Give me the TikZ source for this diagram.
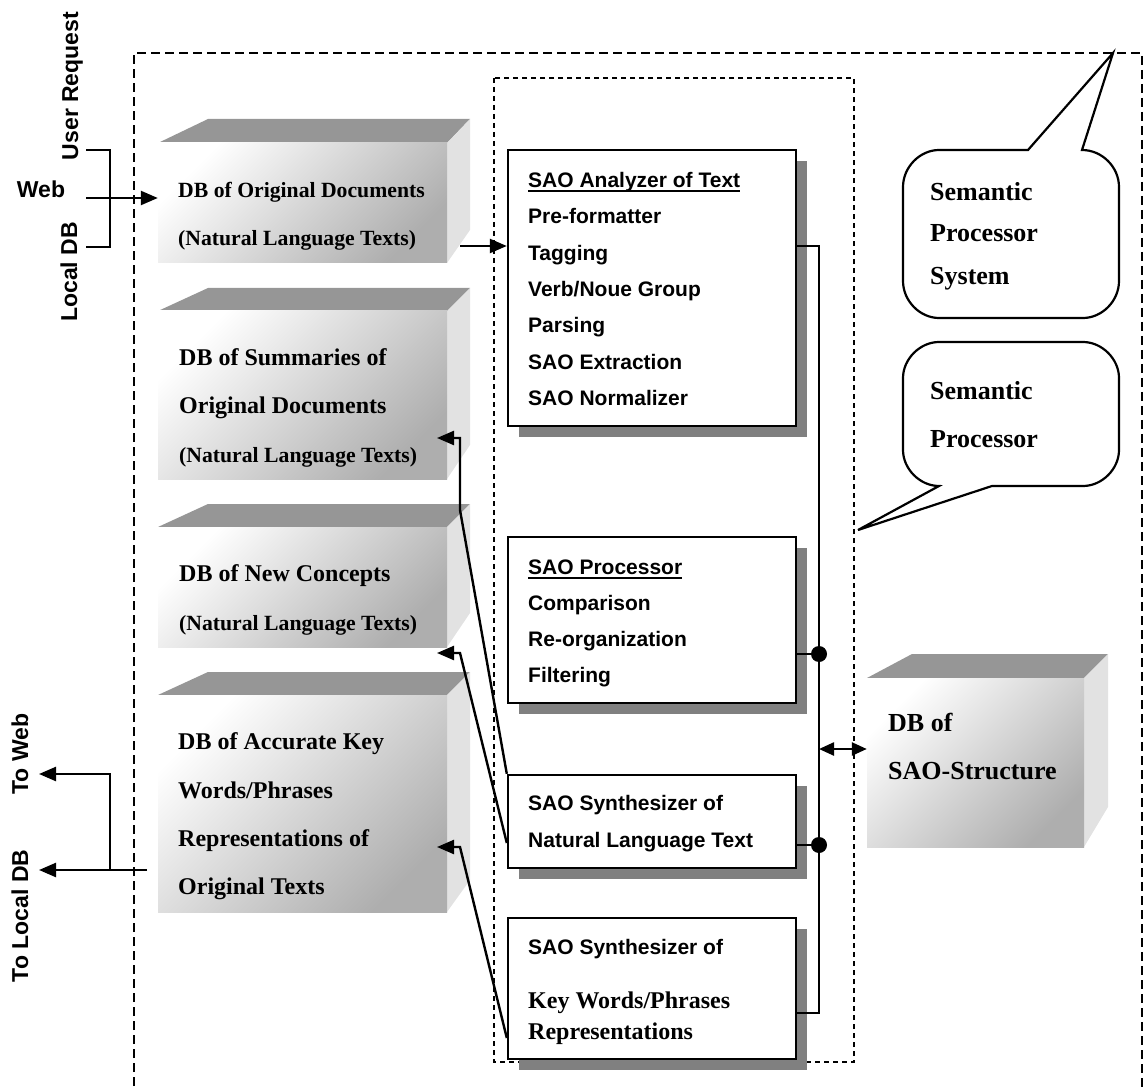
\documentclass[tikz,border=0pt]{standalone}
\usepackage{fontspec}
\setmainfont{Liberation Serif}
\setsansfont{Liberation Sans}
\usetikzlibrary{arrows.meta,shadows}

\definecolor{dbtop}{HTML}{969696}
\definecolor{dbside}{HTML}{E2E2E2}
\definecolor{dbdark}{HTML}{AEAEAE}
\definecolor{boxshadow}{HTML}{808080}

% underlined heading with a heavy rule
\newcommand\ulword[1]{\setbox0\hbox{#1}\rlap{\rule[-4.2pt]{\wd0}{2pt}}\box0}

% database cube: #1 name, #2 left, #3 front top, #4 right, #5 front bottom,
% #6 back-left offset, #7 back-right offset, #8 depth rise, #9 back bottom of side face
\newcommand\dbcube[9]{%
  \fill[dbtop] (#2,#3) -- ({#2+#6},{#3-#8}) -- ({#4+#7},{#3-#8}) -- (#4,#3) -- cycle;
  \fill[dbside] (#4,#3) -- ({#4+#7},{#3-#8}) -- ({#4+#7},#9) -- (#4,#5) -- cycle;
  \node[dbfrontface, minimum width={#4-#2}, minimum height={#5-#3}] (#1) at ({(#2+#4)/2},{(#3+#5)/2}) {};
}

\begin{document}
\begin{tikzpicture}[x=1pt,y=-1pt,
  sans/.style={font=\sffamily\bfseries\fontsize{21}{25}\selectfont, anchor=base west, inner sep=0},
  serifbig/.style={font=\rmfamily\bfseries\fontsize{24}{28}\selectfont, anchor=base west, inner sep=0},
  serifsmall/.style={font=\rmfamily\bfseries\fontsize{21.7}{26}\selectfont, anchor=base west, inner sep=0},
  serifhuge/.style={font=\rmfamily\bfseries\fontsize{26}{30}\selectfont, anchor=base west, inner sep=0},
  extlabel/.style={font=\sffamily\bfseries\fontsize{23}{27}\selectfont, inner sep=0, anchor=base},
  dbfrontface/.style={inner sep=0, top color=white, bottom color=dbdark, shading angle=45},
  saobox/.style={draw=black, line width=2.4pt, fill=white, inner sep=0, minimum width=288,
    drop shadow={shadow xshift=11pt, shadow yshift=-11pt, fill=boxshadow, opacity=1}},
  wire/.style={line width=2.4pt},
  arr/.style={line width=2.4pt, -{Triangle[length=17pt,width=14pt]}},
  busline/.style={line width=2.8pt},
  dot/.style={circle, fill=black, inner sep=0, minimum size=16},
  dblarr/.style={line width=2.4pt, {Triangle[length=15pt,width=13pt]}-{Triangle[length=15pt,width=13pt]}},
  outerframe/.style={line width=2.2pt, dash pattern=on 9pt off 5pt},
  innerframe/.style={line width=1.6pt, dash pattern=on 5pt off 4pt},
  callout/.style={line width=2.2pt, fill=white, line join=miter}
]
\useasboundingbox (0,0) rectangle (1146,1091);

% system and processor frames
\draw[outerframe] (134,1100) -- (134,53) -- (1142,53) -- (1142,1100);
\draw[innerframe] (494,78) rectangle (854,1062);

% databases
\dbcube{dbOrig}{158}{143}{447}{263}{50}{23}{24}{230}
\dbcube{dbSumm}{158}{311}{447}{479}{50}{23}{23}{445}
\dbcube{dbConc}{158}{527}{447}{647}{50}{23}{23}{613}
\dbcube{dbKey}{158}{695}{447}{912}{50}{23}{23}{880}
\dbcube{dbSAO}{867}{678}{1084}{847}{45}{24}{24}{807}

\node[serifsmall] (tOrig1) at (178,198) {DB of Original Documents};
\node[serifsmall] (tOrig2) at (178,246) {(Natural Language Texts)};
\node[serifbig] (tSumm1) at (179,365) {DB of Summaries of};
\node[serifbig] (tSumm2) at (179,413) {Original Documents};
\node[serifsmall] (tSumm3) at (179,462) {(Natural Language Texts)};
\node[serifbig] (tConc1) at (179,581) {DB of New Concepts};
\node[serifsmall] (tConc2) at (179,630) {(Natural Language Texts)};
\node[serifbig] (tKey1) at (178,749) {DB of Accurate Key};
\node[serifbig] (tKey2) at (178,798) {Words/Phrases};
\node[serifbig] (tKey3) at (178,846) {Representations of};
\node[serifbig] (tKey4) at (178,894) {Original Texts};
\node[serifhuge] (tSAO1) at (888,731) {DB of};
\node[serifhuge] (tSAO2) at (888,779) {SAO-Structure};

% processing modules
\node[saobox, minimum height=276] (saoA) at (652,288) {};
\node[saobox, minimum height=166] (saoB) at (652,620) {};
\node[saobox, minimum height=93] (saoC) at (652,821.5) {};
\node[saobox, minimum height=141] (saoD) at (652,988.5) {};

\node[sans] (a1) at (528,187.5) {\ulword{SAO Analyzer of Text}};
\foreach \t [count=\i from 2] in {Pre-formatter, Tagging, Verb/Noue Group, Parsing, SAO Extraction, SAO Normalizer}
  \node[sans] (a\i) at (528,{187.5+36.3*(\i-1)}) {\t};

\node[sans] (b1) at (528,574.5) {\ulword{SAO Processor}};
\node[sans] (b2) at (528,610.5) {Comparison};
\node[sans] (b3) at (528,646.5) {Re-organization};
\node[sans] (b4) at (528,682.5) {Filtering};

\node[sans] (c1) at (528,810.5) {SAO Synthesizer of};
\node[sans] (c2) at (528,847.5) {Natural Language Text};

\node[sans] (d1) at (528,954.5) {SAO Synthesizer of};
\node[serifbig] (d2) at (528,1008) {Key Words/Phrases};
\node[serifbig] (d3) at (528,1039) {Representations};

% callouts
\draw[callout] (1028,150) -- (1113,53) -- (1082,150)
  .. controls (1102,150) and (1119,167) .. (1119,187) -- (1119,281)
  .. controls (1119,301) and (1102,318) .. (1083,318) -- (939,318)
  .. controls (920,318) and (903,301) .. (903,281) -- (903,187)
  .. controls (903,167) and (920,150) .. (939,150) -- cycle;
\node[serifhuge] (cs1) at (930,201) {Semantic};
\node[serifhuge] (cs2) at (930,242) {Processor};
\node[serifhuge] (cs3) at (930,285) {System};

\draw[callout] (992,486) -- (858,530) -- (939,486)
  .. controls (920,486) and (903,469) .. (903,450) -- (903,378)
  .. controls (903,359) and (920,342) .. (939,342) -- (1083,342)
  .. controls (1102,342) and (1119,359) .. (1119,378) -- (1119,450)
  .. controls (1119,469) and (1102,486) .. (1083,486) -- cycle;
\node[serifhuge] (cp1) at (930,399) {Semantic};
\node[serifhuge] (cp2) at (930,447) {Processor};

% external sources and targets
\node[extlabel, rotate=90] (lUser) at (78,86) {User Request};
\node[extlabel] (lWeb) at (41,198) {Web};
\node[extlabel, rotate=90] (lLocal) at (77,272) {Local DB};
\node[extlabel, rotate=90] (lToWeb) at (28,754) {To Web};
\node[extlabel, rotate=90] (lToLocal) at (28,916) {To Local DB};

\coordinate (inUser) at (86,150);
\coordinate (inLocal) at (86,247);
\coordinate (inWeb) at (86,198);
\draw[wire] (inUser) -- ++(24,0) |- (inLocal);
\draw[arr] (inWeb) -- (dbOrig.west |- inWeb);

\coordinate (outSrc) at (147,870);
\coordinate (outSplit) at (110,870);
\coordinate (outLocal) at (39,870);
\coordinate (outWeb) at (39,774);
\draw[arr] (outSrc) -- (outLocal);
\draw[arr] (outSplit) |- (outWeb);

% documents into the analyzer
\coordinate (origOut) at (460,246);
\draw[arr] (origOut) -- (saoA.west |- origOut);

% shared bus to the SAO-structure database
\coordinate (busTop) at (819,246);
\coordinate (busBot) at (819,1013);
\draw[busline] (saoA.east |- busTop) -- (busTop) -- (busBot) -- (saoD.east |- busBot);
\node[dot] (jB) at (819,654) {};
\node[dot] (jC) at (819,845) {};
\draw[busline] (saoB.east |- jB) -- (jB);
\draw[busline] (saoC.east |- jC) -- (jC);
\coordinate (busSAO) at (819,749);
\draw[dblarr] (busSAO) -- (dbSAO.west |- busSAO);

% synthesizer outputs back to the databases
\coordinate (summIn) at (437,438);
\coordinate (concIn) at (437,653);
\coordinate (keyIn) at (437,847);
\draw[arr] (saoC.north west) -- (460,510) |- (summIn);
\draw[arr] ([yshift=-21.5pt]saoC.west) -- (460,653) -- (concIn);
\draw[arr] ([yshift=-49.5pt]saoD.west) -- (460,847) -- (keyIn);
\end{tikzpicture}
\end{document}
